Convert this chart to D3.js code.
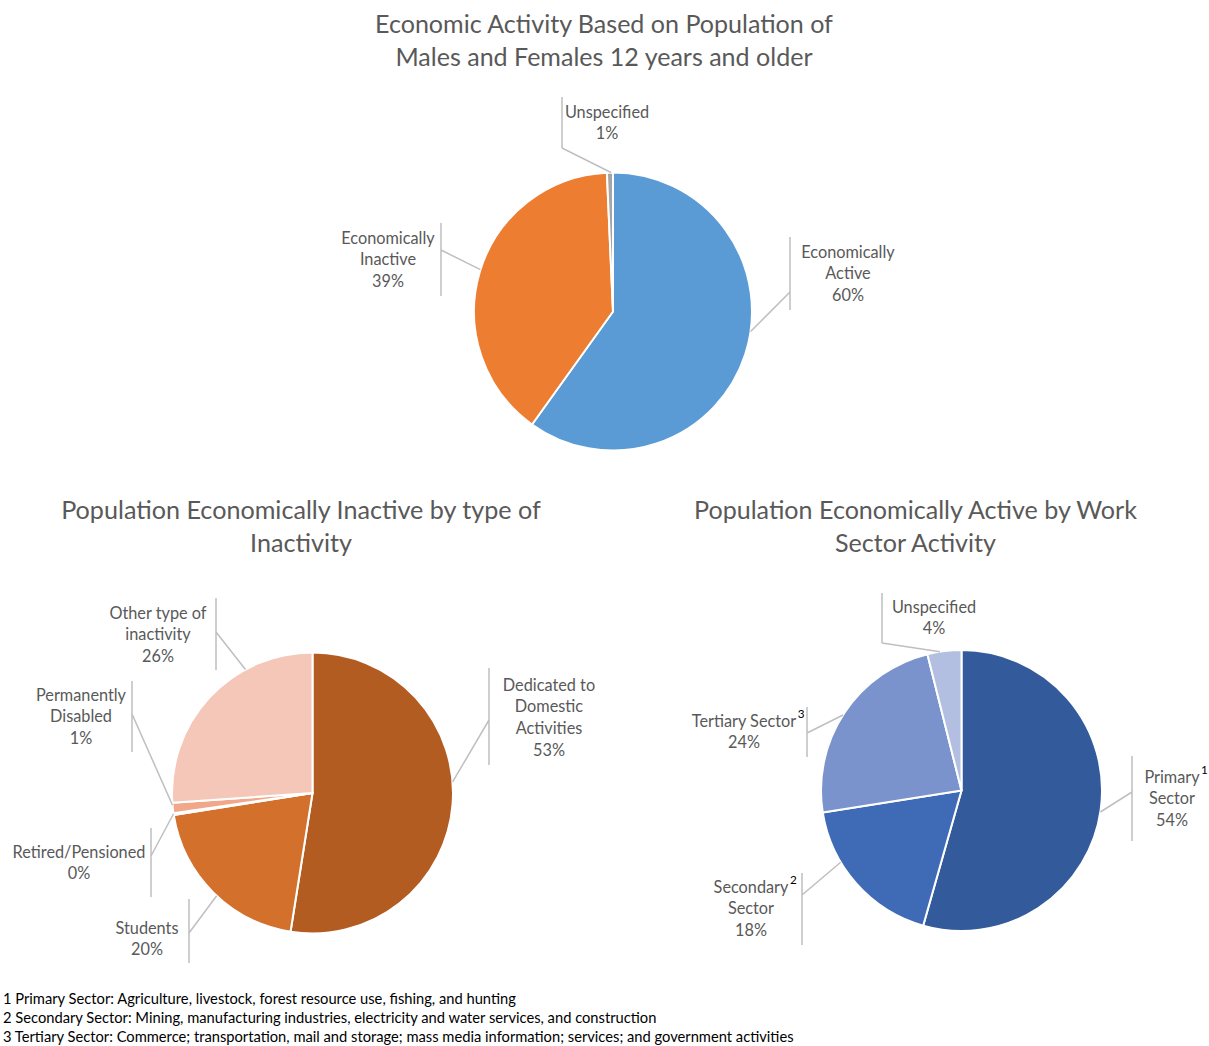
<!DOCTYPE html>
<html>
<head>
<meta charset="utf-8">
<script src="https://cdn.jsdelivr.net/npm/d3@7"></script>
<style>
  html, body { margin: 0; padding: 0; background: #ffffff; }
  svg { display: block; }
</style>
</head>
<body>
<svg id="chart" width="1209" height="1046"></svg>
<script>
// ---------------- DATA ----------------
const topCategories = ["Economically Active", "Economically Inactive", "Unspecified"];
const topValues = [59.9, 39.4, 0.7];

const inactiveCategories = ["Dedicated to Domestic Activities", "Students", "Retired/Pensioned", "Permanently Disabled", "Other type of inactivity"];
const inactiveValues = [52.5, 20.0, 0.2, 1.2, 26.1];

const activeCategories = ["Primary Sector", "Secondary Sector", "Tertiary Sector", "Unspecified"];
const activeValues = [54.4, 18.1, 23.6, 3.9];

const titleTop = ["Economic Activity Based on Population of", "Males and Females 12 years and older"];
const titleInactive = ["Population Economically Inactive by type of", "Inactivity"];
const titleActive = ["Population Economically Active by Work", "Sector Activity"];

const footnotes = [
  "1 Primary Sector: Agriculture, livestock, forest resource use, fishing, and hunting",
  "2 Secondary Sector: Mining, manufacturing industries, electricity and water services, and construction",
  "3 Tertiary Sector: Commerce; transportation, mail and storage; mass media information; services; and government activities"
];

// ---------------- STYLE / LAYOUT ----------------
const FONT = "Lato, 'Open Sans', sans-serif";
const TEXT_GREY = "#595959";
const LEADER = "#bfbfbf";

const topColors = ["#5b9bd5", "#ed7d31", "#a5a5a5"];
const inactiveColors = ["#b35c22", "#d2702c", "#e9936a", "#f0a78a", "#f4c7b8"];
const activeColors = ["#335a9b", "#3e6ab6", "#7a93cd", "#b3bfe0"];

const charts = [
  {
    cats: topCategories, vals: topValues, colors: topColors,
    cx: 613, cy: 311.5, r: 139,
    title: titleTop, titleX: 604, titleY: [24, 57], titleW: 458,
    labels: [
      { lines: ["Economically", "Active"], x: 848, y: 252, bx: 790, by0: 237, by1: 310, ey: 292, ang: 98.3 },
      { lines: ["Economically", "Inactive"], x: 388, y: 238, bx: 441, by0: 223, by1: 296, ey: 250, ang: 287.5 },
      { lines: ["Unspecified"], x: 607, y: 112, bx: 562, by0: 97, by1: 148, ey: 148, ang: 359.2 }
    ]
  },
  {
    cats: inactiveCategories, vals: inactiveValues, colors: inactiveColors,
    cx: 312.5, cy: 793, r: 140.5,
    title: titleInactive, titleX: 301, titleY: [510, 543], titleW: 480,
    labels: [
      { lines: ["Dedicated to", "Domestic", "Activities"], x: 549, y: 685, bx: 489, by0: 668, by1: 765, ey: 720, ang: 85.5 },
      { lines: ["Students"], x: 147, y: 928, bx: 189, by0: 899, by1: 963, ey: 933, ang: 223 },
      { lines: ["Retired/Pensioned"], x: 79, y: 852, bx: 151, by0: 828, by1: 897, ey: 856, ang: 261.5 },
      { lines: ["Permanently", "Disabled"], x: 81, y: 695, bx: 132, by0: 681, by1: 752, ey: 714, ang: 265 },
      { lines: ["Other type of", "inactivity"], x: 158, y: 613, bx: 216, by0: 598, by1: 670, ey: 632, ang: 331.5 }
    ]
  },
  {
    cats: activeCategories, vals: activeValues, colors: activeColors,
    cx: 961.5, cy: 790.5, r: 140.5,
    title: titleActive, titleX: 915.5, titleY: [510, 543], titleW: 443,
    labels: [
      { lines: ["Primary", "Sector"], sup: "1", x: 1172, y: 777, bx: 1132, by0: 756, by1: 841, ey: 792, ang: 98.8 },
      { lines: ["Secondary", "Sector"], sup: "2", x: 751, y: 887, bx: 802, by0: 873, by1: 945, ey: 895, ang: 239.3 },
      { lines: ["Tertiary Sector"], sup: "3", x: 744, y: 721, bx: 807, by0: 707, by1: 757, ey: 733, ang: 302.5 },
      { lines: ["Unspecified"], x: 934, y: 607, bx: 882, by0: 593, by1: 643, ey: 643, ang: 351.2 }
    ]
  }
];

const LINE_H = 21.7;

// ---------------- DRAW ----------------
const svg = d3.select("#chart");

// helper: fit a font size so that a string reaches a target width
function fitSize(text, target, base) {
  const t = svg.append("text").attr("font-family", FONT).attr("font-size", base).text(text);
  const w = t.node().getComputedTextLength();
  t.remove();
  return base * target / w;
}

const labelSize = fitSize("Retired/Pensioned", 133, 15);

charts.forEach(ch => {
  const g = svg.append("g");
  const total = d3.sum(ch.vals);
  const pie = d3.pie().sort(null).value(d => d)(ch.vals);
  const arc = d3.arc().innerRadius(0).outerRadius(ch.r);

  // slices
  g.append("g").attr("transform", `translate(${ch.cx},${ch.cy})`)
    .selectAll("path").data(pie).join("path")
    .attr("d", arc)
    .attr("fill", (d, i) => ch.colors[i])
    .attr("stroke", "#ffffff")
    .attr("stroke-width", 2)
    .attr("stroke-linejoin", "round");

  // title
  const ts = fitSize(ch.title[0], ch.titleW, 24);
  g.append("g").selectAll("text").data(ch.title).join("text")
    .attr("x", ch.titleX).attr("y", (d, i) => ch.titleY[i])
    .attr("dy", "0.35em")
    .attr("text-anchor", "middle")
    .attr("font-family", FONT).attr("font-size", ts)
    .attr("fill", TEXT_GREY)
    .text(d => d);

  // labels + leaders
  ch.labels.forEach((lb, i) => {
    const a = lb.ang * Math.PI / 180;
    const px = ch.cx + ch.r * Math.sin(a);
    const py = ch.cy - ch.r * Math.cos(a);
    g.append("path")
      .attr("d", `M${lb.bx},${lb.by0}V${lb.by1}M${lb.bx},${lb.ey}L${px},${py}`)
      .attr("fill", "none").attr("stroke", LEADER).attr("stroke-width", 1.5);

    const pct = Math.round(ch.vals[i] / total * 100) + "%";
    const lines = lb.lines.concat([pct]);
    const tg = g.append("g");
    tg.selectAll("text").data(lines).join("text")
      .attr("x", lb.x).attr("y", (d, j) => lb.y + j * LINE_H)
      .attr("dy", "0.35em")
      .attr("text-anchor", "middle")
      .attr("font-family", FONT).attr("font-size", labelSize)
      .attr("fill", TEXT_GREY)
      .text(d => d);
    if (lb.sup) {
      const first = tg.select("text").node();
      const w = first.getComputedTextLength();
      tg.append("text")
        .attr("x", lb.x + w / 2 + 1.5).attr("y", lb.y - 7)
        .attr("dy", "0.35em")
        .attr("font-family", FONT).attr("font-size", labelSize * 0.72)
        .attr("fill", "#000000")
        .text(lb.sup);
    }
  });
});

// footnotes
const fs = fitSize(footnotes[2], 791, 14);
svg.append("g").selectAll("text").data(footnotes).join("text")
  .attr("x", 3).attr("y", (d, i) => 999 + i * 19)
  .attr("dy", "0.35em")
  .attr("font-family", FONT).attr("font-size", fs)
  .attr("fill", "#000000")
  .text(d => d);
</script>
</body>
</html>
